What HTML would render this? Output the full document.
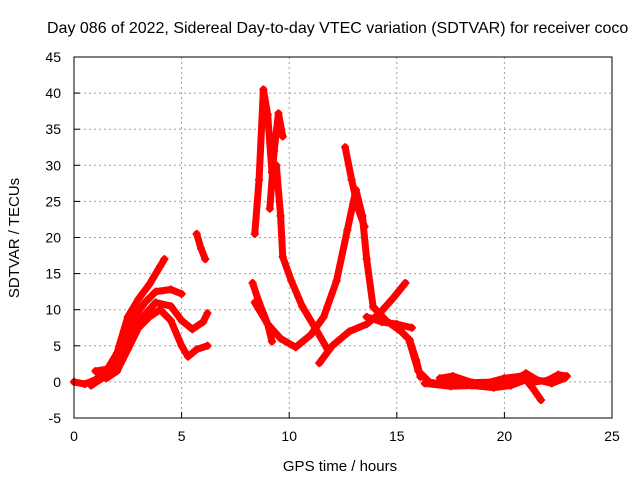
<!DOCTYPE html>
<html><head><meta charset="utf-8"><style>
body{margin:0;background:#fff}
svg text{font-family:"Liberation Sans",sans-serif;font-size:14px;fill:#000}
</style></head><body>
<svg id="chart" width="640" height="480" viewBox="0 0 640 480" xmlns="http://www.w3.org/2000/svg">
<text x="47" y="33" style="font-size:16px">Day 086 of 2022, Sidereal Day-to-day VTEC variation (SDTVAR) for receiver coco</text>
<text transform="translate(19,238) rotate(-90)" text-anchor="middle" style="font-size:15px">SDTVAR / TECUs</text>
<text x="340" y="471" text-anchor="middle" style="font-size:15px">GPS time / hours</text>
<g id="grid"></g><g id="ticks"></g><g id="series"></g>
<rect x="74" y="57" width="538" height="361" fill="none" stroke="#000" stroke-width="1"/>
</svg>
<script>
const xTicks=[0,5,10,15,20,25];
const yTicks=[-5,0,5,10,15,20,25,30,35,40,45];
const trackA=[[0,0],[0.5,-0.3],[1,0.3],[1.5,1.5],[2,4],[2.5,9],[3,11.5],[3.5,13.5],[4,16],[4.2,17]];
const trackB=[[0.8,-0.5],[1.3,0.5],[1.8,2],[2.3,5.5],[2.8,9],[3.3,11],[3.8,12.5],[4.5,12.8],[5,12.2]];
const trackC=[[1,1.5],[1.6,1.8],[2.1,3],[2.6,6.5],[3.2,9],[3.8,11],[4.5,10.5],[5,8.5],[5.5,7.3],[6,8.3],[6.2,9.5]];
const trackD=[[1.5,0.5],[2,1.5],[2.5,4.5],[3,7.5],[3.5,9],[4,10],[4.5,8.5],[5,5],[5.3,3.5],[5.7,4.5],[6.2,5]];
const trackE=[[5.7,20.5],[5.9,18.5],[6.1,17]];
const trackF=[[8.4,20.5],[8.6,28],[8.8,40.5],[9.0,37],[9.2,29]];
const trackG=[[9.1,24],[9.3,32],[9.5,37.2],[9.7,34]];
const trackH=[[9.4,30],[9.6,23],[9.7,17.3],[10.1,14],[10.6,10.5],[11.2,7.5],[11.8,4.4]];
const trackI=[[8.3,13.7],[8.6,11],[9,8],[9.2,5.6]];
const trackJ=[[8.4,11],[9,8],[9.6,6],[10.3,4.8],[11,6.5],[11.6,9],[12.2,14],[12.7,21],[13.1,26.6],[13.4,23],[13.6,17],[13.9,10.4],[14.5,8.5],[15.2,7],[15.6,5.8],[15.9,3],[16.1,0.7]];
const trackK=[[12.6,32.5],[12.9,28],[13.2,24],[13.5,21.5]];
const trackL=[[11.4,2.6],[12,5],[12.8,7],[13.6,8],[14.2,9.5],[14.8,11.5],[15.4,13.7]];
const trackM=[[13.6,9],[14.3,8.3],[15,8],[15.7,7.5]];
const trackN=[[15.6,5.5],[16,1.5],[16.5,0],[17,-0.3],[18,0],[19,-0.3],[20,0.5],[20.8,0.8],[21.4,0],[22,0.2],[22.5,1],[22.9,0.8]];
const trackO=[[16.3,-0.2],[17.5,-0.6],[18.5,-0.5],[19.5,-0.8],[20.3,-0.5],[21,0.3],[21.3,-0.8],[21.7,-2.5]];
const trackP=[[17,0.5],[17.6,0.8],[18.5,-0.1],[19.8,0],[20.5,0.2],[21,1.2],[21.5,0.3],[22.2,-0.2],[22.8,0.5]];
const tracks=[trackA,trackB,trackC,trackD,trackE,trackF,trackG,trackH,trackI,trackJ,trackK,trackL,trackM,trackN,trackO,trackP];
const X0=74,X1=612,Y0=418,Y1=57;
const sx=v=>X0+(v-0)/25*(X1-X0);
const sy=v=>Y0-(v+5)/50*(Y0-Y1);
const NS="http://www.w3.org/2000/svg";
const grid=document.getElementById('grid'),ticks=document.getElementById('ticks'),series=document.getElementById('series');
function mk(t,a,p){const e=document.createElementNS(NS,t);for(const k in a)e.setAttribute(k,a[k]);p.appendChild(e);return e;}
xTicks.forEach(v=>{const x=sx(v);
 if(v>0&&v<25){const g=mk('line',{x1:x,x2:x,y1:Y1,y2:Y0,stroke:'#a0a0a0','stroke-dasharray':'2,3'},grid);
 
 }
 const t=mk('line',{x1:x,x2:x,y1:Y0,y2:Y0-6,stroke:'#000'},ticks);
 
 
 const l=mk('text',{x:x,y:Y0+23,'text-anchor':'middle'},ticks);l.textContent=v;
 
 });
yTicks.forEach(v=>{const y=sy(v);
 if(v>-5&&v<45){const g=mk('line',{x1:X0,x2:X1,y1:y,y2:y,stroke:'#a0a0a0','stroke-dasharray':'2,3'},grid);
 
 }
 const t=mk('line',{x1:X0,x2:X0+6,y1:y,y2:y,stroke:'#000'},ticks);
 
 
 const l=mk('text',{x:X0-13,y:y+5,'text-anchor':'end'},ticks);l.textContent=v;
 
 });
tracks.forEach(tr=>{
 const pl=mk('polyline',{points:tr.map(p=>sx(p[0])+','+sy(p[1])).join(' '),fill:'none',stroke:'#ff0000','stroke-width':7,'stroke-linejoin':'round','stroke-linecap':'round'},series);
 
 
 tr.forEach(p=>{const x=sx(p[0]),y=sy(p[1]);
  const m=mk('path',{d:`M${x-4},${y}H${x+4}M${x},${y-4}V${y+4}`,stroke:'#ff0000','stroke-width':2},series);
  
  });
});
</script>
</body></html>
